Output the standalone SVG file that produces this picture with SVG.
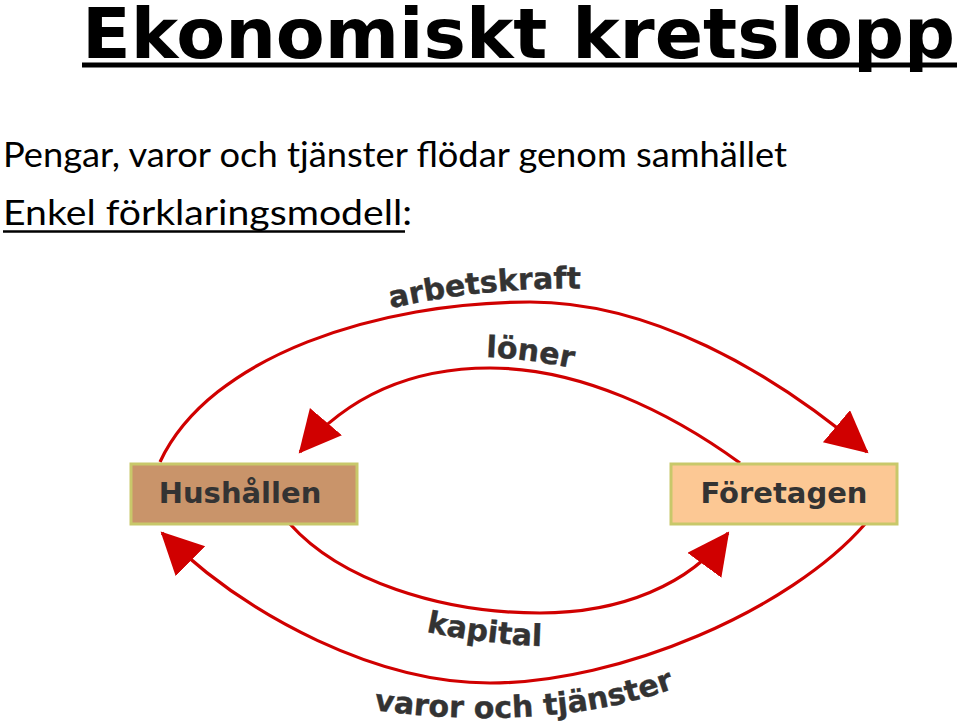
<svg xmlns="http://www.w3.org/2000/svg" width="960" height="725" viewBox="0 0 960 725">
  <style>
    .title { font-family: "DejaVu Sans", Verdana, sans-serif; font-weight: bold; font-size: 70px; fill: #000; }
    .sub { font-family: Lato, "Open Sans", sans-serif; font-size: 35px; fill: #000; }
    .box-label { font-family: "DejaVu Sans", Verdana, sans-serif; font-weight: bold; font-size: 29px; fill: #333; text-anchor: middle; }
    .flow-label { font-family: "DejaVu Sans", Verdana, sans-serif; font-weight: bold; font-size: 30px; fill: #333; stroke: #333; stroke-width: 0.4; }
    .flow { fill: none; stroke: #d00000; stroke-width: 3.2; }
    .box { stroke: #c8c86a; stroke-width: 3; }
    .rule { stroke: #000; }
  </style>
  <defs>
    <marker id="arrow" markerUnits="userSpaceOnUse" markerWidth="44" markerHeight="44" refX="40" refY="21" orient="auto">
      <path d="M0,0 L42,21 L0,42 z" fill="#d00000"/>
    </marker>
    <path id="tp-arbetskraft" d="M383,310 Q490,285 600,289"/>
    <path id="tp-loner" d="M478,357 Q530,358 585,371"/>
    <path id="tp-kapital" d="M418,630 Q500,648 570,646"/>
    <path id="tp-varor" d="M366,709 C440,720 580,730 695,680"/>
  </defs>

  <g id="header">
    <text class="title" x="82" y="58" textLength="873" lengthAdjust="spacingAndGlyphs">Ekonomiskt kretslopp</text>
    <line class="rule" x1="82" y1="65" x2="957" y2="65" stroke-width="5"/>
    <text class="sub" x="3" y="167" textLength="784" lengthAdjust="spacingAndGlyphs">Pengar, varor och tjänster flödar genom samhället</text>
    <text class="sub" x="3" y="225" textLength="409" lengthAdjust="spacingAndGlyphs">Enkel förklaringsmodell:</text>
    <line class="rule" x1="3" y1="231.5" x2="405" y2="231.5" stroke-width="2.5"/>
  </g>

  <g id="connectors">
    <g id="flow-arbetskraft">
      <path class="flow" d="M160,462 C210,355 380,302 530,302 C650,302 770,370 867,452" marker-end="url(#arrow)"/>
      <text class="flow-label"><textPath href="#tp-arbetskraft" startOffset="8">arbetskraft</textPath></text>
    </g>
    <g id="flow-loner">
      <path class="flow" d="M740,463 C670,412 580,368 490,368 C400,368 340,405 300,452" marker-end="url(#arrow)"/>
      <text class="flow-label"><textPath href="#tp-loner" startOffset="8">löner</textPath></text>
    </g>
    <g id="flow-kapital">
      <path class="flow" d="M290,524 C340,580 440,613 540,613 C620,613 690,585 728,533" marker-end="url(#arrow)"/>
      <text class="flow-label"><textPath href="#tp-kapital" startOffset="8">kapital</textPath></text>
    </g>
    <g id="flow-varor">
      <path class="flow" d="M865,524 C790,610 620,683 490,683 C380,683 250,620 162,533" marker-end="url(#arrow)"/>
      <text class="flow-label"><textPath href="#tp-varor" startOffset="8">varor och tjänster</textPath></text>
    </g>
  </g>

  <g id="node-hushallen">
    <rect class="box" x="131" y="464" width="226" height="60" fill="#c9946a"/>
    <text class="box-label" x="240" y="503">Hushållen</text>
  </g>
  <g id="node-foretagen">
    <rect class="box" x="671" y="464" width="226" height="60" fill="#fcc894"/>
    <text class="box-label" x="784" y="503">Företagen</text>
  </g>
</svg>
